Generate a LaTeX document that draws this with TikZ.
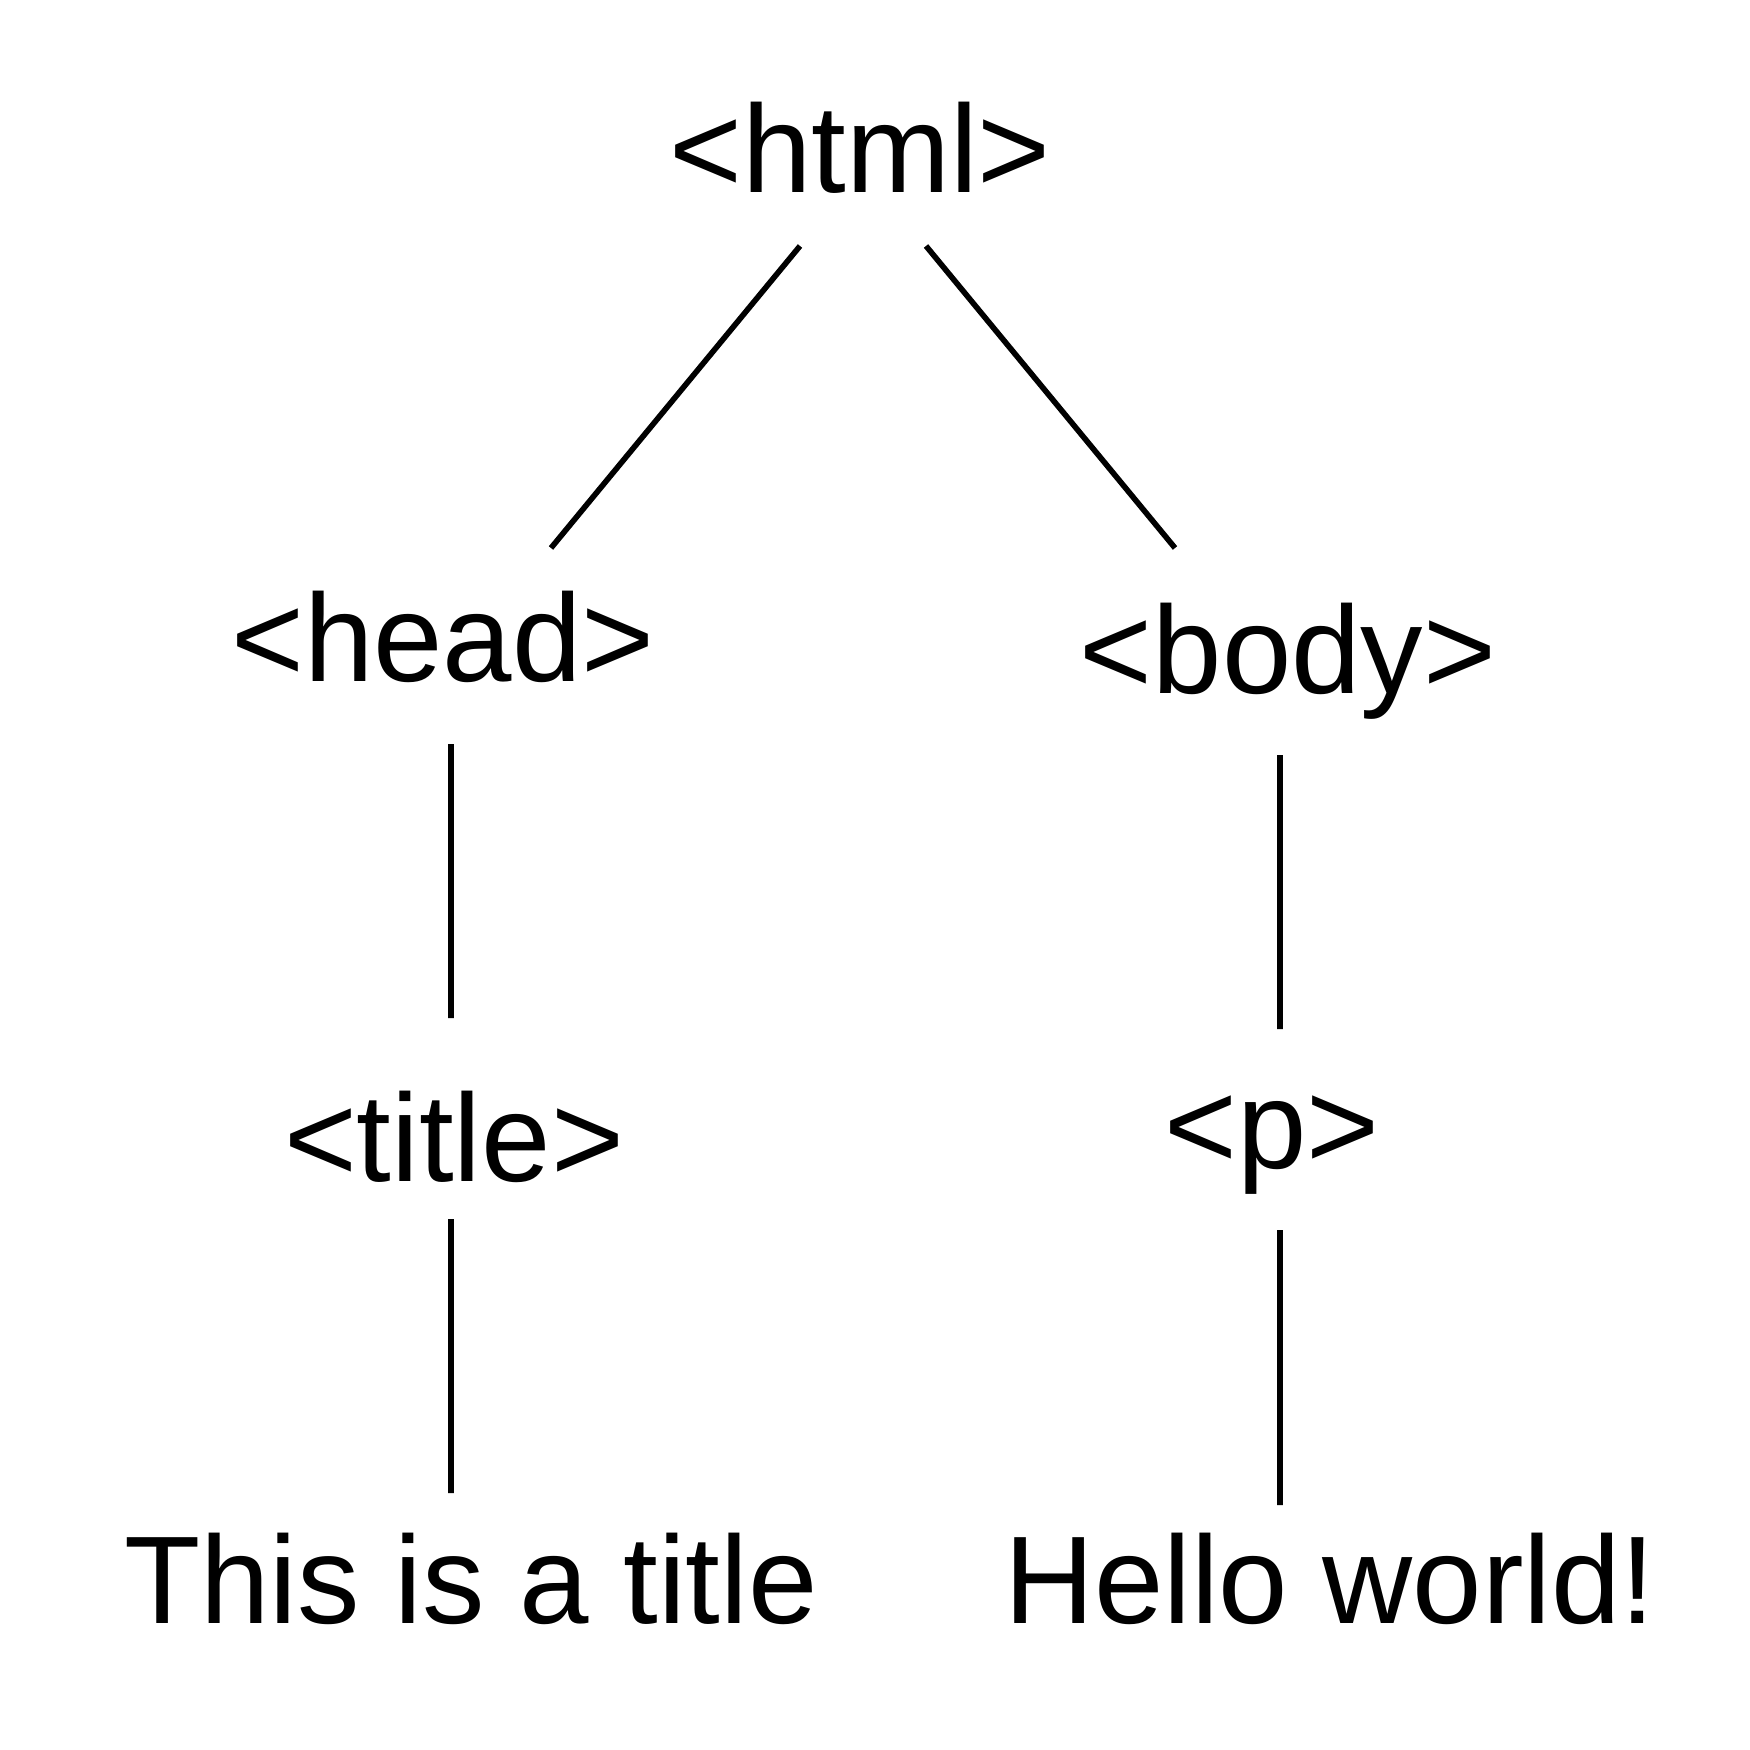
\documentclass[tikz,border=0pt]{standalone}
\usepackage{fontspec}
\setmainfont{Liberation Sans}
\usetikzlibrary{calc}
\usetikzlibrary{positioning}

\begin{document}
\begin{tikzpicture}[
        tag/.style={font=\fontsize{35.5}{40}\selectfont, inner sep=0pt, anchor=base},
        edge/.style={line width=1.6pt},
    ]

    \useasboundingbox (0,0) rectangle (17.5,-17.5);

    % Element nodes, placed by their base line
    \node[tag] (HTML)  at (8.60, -1.93)  {<html>};
    \node[tag] (HEAD)  at (4.43, -6.81)  {<head>};
    \node[tag] (BODY)  at (12.88, -6.93) {<body>};
    \node[tag] (TITLE) at (4.54, -11.81) {<title>};
    \node[tag] (P)     at (12.72, -11.68) {<p>};

    % Text leaves
    \node[tag] (T1) at (4.71, -16.23)  {This is a title};
    \node[tag] (T2) at (13.30, -16.23) {Hello world!};

    \draw[edge] ($(HTML.base)+(-.60,-.53)$)  -- ($(HEAD.base)+(1.08,1.33)$);
    \draw[edge] ($(HTML.base)+(.66,-.53)$)   -- ($(BODY.base)+(-1.13,1.45)$);

    \draw[edge] ($(HEAD.base)+(.08,-.63)$)   -- ($(TITLE.base)+(-.03,1.63)$);
    \draw[edge] ($(BODY.base)+(-.08,-.62)$)  -- ($(P.base)+(.08,1.39)$);

    \draw[edge] ($(TITLE.base)+(-.03,-.38)$) -- ($(T1.base)+(-.20,1.30)$);
    \draw[edge] ($(P.base)+(.08,-.62)$)      -- ($(T2.base)+(-.50,1.18)$);
\end{tikzpicture}
\end{document}
